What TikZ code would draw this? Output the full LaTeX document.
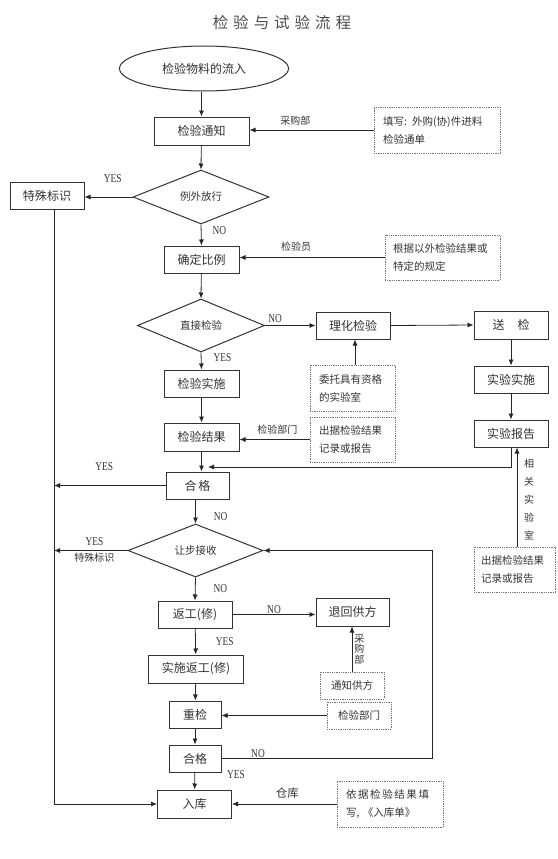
\documentclass[tikz,border=0pt]{standalone}
\usepackage{fontspec}
\newfontfamily\cjk{Noto Sans CJK SC}
\newfontfamily\yesno[FakeStretch=0.78]{Liberation Serif}
\usetikzlibrary{shapes.geometric,arrows.meta}
\begin{document}
\begin{tikzpicture}[x=1pt,y=-1pt,
  every node/.style={text=black!80},
  box/.style={draw=black!80, line width=1pt, minimum height=27pt, inner sep=0pt, font=\cjk\fontsize{12}{14}\selectfont},
  choice/.style={draw=black!80, line width=1pt, diamond, inner sep=0pt, font=\cjk\fontsize{10.5}{12}\selectfont},
  note/.style={draw=black!55, densely dotted, line width=0.8pt, inner sep=0pt, align=left, font=\cjk\fontsize{10.5}{18}\selectfont},
  tag/.style={inner sep=0pt, font=\cjk\fontsize{10}{12}\selectfont},
  yn/.style={inner sep=0pt, font=\yesno\fontsize{12}{12}\selectfont},
  flow/.style={draw=black!85, line width=0.8pt, -{Latex[length=6pt,width=5pt]}}]
\useasboundingbox (0,0) rectangle (557,859);
\node[font=\cjk\fontsize{15.5}{16}\selectfont, text=black!70] (title) at (282,23) {检\hspace{5pt}验\hspace{5pt}与\hspace{5pt}试\hspace{5pt}验\hspace{5pt}流\hspace{5pt}程};
\node[box, ellipse, minimum width=169pt, minimum height=45pt] (start) at (204,68.5) {检验物料的流入};
\node[box, minimum width=95pt, minimum height=28pt] (notice) at (201.5,131) {检验通知};
\node[choice, minimum width=136pt, minimum height=54pt] (release) at (201,197) {例外放行};
\node[box, minimum width=74pt] (special) at (47,195.5) {特殊标识};
\node[box, minimum width=75pt] (ratio) at (201.5,259.5) {确定比例};
\node[choice, minimum width=127pt, minimum height=53pt] (direct) at (201,325.5) {直接检验};
\node[box, minimum width=74pt] (physchem) at (353,325.5) {理化检验};
\node[box, minimum width=74pt, minimum height=28pt] (send) at (511,325) {送\hspace{13pt}检};
\node[box, minimum width=74pt] (testexec) at (511,379.5) {实验实施};
\node[box, minimum width=74pt] (testrep) at (511,433.5) {实验报告};
\node[box, minimum width=75pt] (exec) at (201.5,383.5) {检验实施};
\node[box, minimum width=75pt, minimum height=28pt] (result) at (201.5,437) {检验结果};
\node[box, minimum width=63pt] (pass) at (197.5,485.5) {合\,格};
\node[choice, minimum width=135pt, minimum height=53pt] (concession) at (195.5,550.5) {让步接收};
\node[box, minimum width=74pt] (rework) at (195,614.5) {返工(修)};
\node[box, minimum width=73pt, minimum height=28pt] (return) at (352.5,612) {退回供方};
\node[box, minimum width=95pt, minimum height=28pt] (dorework) at (196,669) {实施返工(修)};
\node[box, minimum width=52pt] (recheck) at (195,714.5) {重检};
\node[box, minimum width=52pt] (pass2) at (195,758.5) {合格};
\node[box, minimum width=74pt, minimum height=28pt] (stock) at (194.5,804) {入库};
\node[note, minimum width=126pt, minimum height=46pt, text width=108pt] (nfill) at (437,130) {填写: 外购(协)件进料\\检验通单};
\node[note, minimum width=115pt, minimum height=45pt, text width=99pt] (nrule) at (442.5,257.5) {根据以外检验结果或\\特定的规定};
\node[note, minimum width=85pt, minimum height=46pt, text width=67pt] (nlab) at (352.5,388) {委托具有资格\\的实验室};
\node[note, minimum width=85pt, minimum height=45pt, text width=67pt] (nrep) at (352.5,439.5) {出据检验结果\\记录或报告};
\node[note, minimum width=81pt, minimum height=45pt, text width=67pt] (nrepb) at (514.5,569.5) {出据检验结果\\记录或报告};
\node[note, minimum width=64pt, minimum height=27pt] (ninform) at (352,685.5) {通知供方};
\node[note, minimum width=64pt, minimum height=27pt] (ndept) at (359,715.5) {检验部门};
\node[note, minimum width=106pt, minimum height=46pt, text width=88pt] (nstore) at (390,804) {依\hspace{1.6pt}据\hspace{1.6pt}检\hspace{1.6pt}验\hspace{1.6pt}结\hspace{1.6pt}果\hspace{1.6pt}填\\写, 《入库单》};
\coordinate (railtop) at ([xshift=7pt]special.south);
\coordinate (join) at (208,467);
\coordinate (loopcorner) at (432,758.5);
\draw[flow] (start.south -| notice) -- (notice.north);
\draw[flow] (nfill.west) -- (nfill.west -| notice.east) node[tag, pos=0.63, above=4pt] (buy) {采购部};
\draw[flow] (notice) -- (release.north);
\draw[flow] (release.west) -- (release.west -| special.east) node[yn, pos=0.41, above=14pt] (yes1) {YES};
\draw[flow] (release.south) -- (ratio.north) node[yn, pos=0.3, right=11pt] (no1) {NO};
\draw[flow] (nrule.west) -- (nrule.west -| ratio.east) node[tag, pos=0.61, above=6pt] (inspector) {检验员};
\draw[flow] (ratio) -- (direct.north);
\draw[flow] (direct.east) -- (physchem.west) node[yn, pos=0.2, above=2pt] (no2) {NO};
\draw[flow] (physchem.east) -- (send.west);
\draw[flow] (send) -- (testexec);
\draw[flow] (testexec) -- (testrep);
\draw[flow] (nlab.north -| 355,0) -- (physchem.south -| 355,0);
\draw[flow] (direct.south) -- (exec.north) node[yn, pos=0.3, right=12pt] (yes2) {YES};
\draw[flow] (exec) -- (result);
\draw[flow] (nrep.west) -- (nrep.west -| result.east) node[tag, pos=0.46, above=5pt] (dept) {检验部门};
\draw[flow] (testrep.south) |- (join);
\draw[flow] ([xshift=6pt]testrep.south |- nrepb.north) -- ([xshift=6pt]testrep.south);
\node[tag, align=center, font=\cjk\fontsize{10}{18}\selectfont] (labname) at (529,500) {相\\关\\实\\验\\室};
\draw[flow] (result.south) -- (result.south |- pass.north);
\draw[flow] (railtop) |- (stock.west);
\draw[flow] (pass.west) -- (pass.west -| railtop) node[yn, pos=0.55, above=14pt] (yes3) {YES};
\draw[flow] (pass.south -| concession) -- (concession.north) node[yn, pos=0.7, right=18pt] (no3) {NO};
\draw[flow] (concession.west) -- (concession.west -| railtop) node[yn, pos=0.45, above=4pt] (yes4) {YES} node[tag, pos=0.45, below=2pt] (mark) {特殊标识};
\draw[flow] (concession.south) -- (rework.north) node[yn, midway, right=18pt] (no4) {NO};
\draw[flow] (rework.east) -- (rework.east -| return.west) node[yn, midway, above=0pt] (no5) {NO};
\draw[flow] (ninform.north) -- (ninform.north |- return.south) node[tag, align=center, font=\cjk\fontsize{10}{10.5}\selectfont, midway, right=2pt] (buyv) {采\\购\\部};
\draw[flow] (rework) -- (dorework) node[yn, midway, right=20pt] (yes5) {YES};
\draw[flow] (dorework) -- (recheck);
\draw[flow] (ndept.west) -- (ndept.west -| recheck.east);
\draw[flow] (recheck) -- (pass2);
\draw[flow] (pass2.east) -- (loopcorner) |- (concession.east);
\node[yn] (no6) at (258,754) {NO};
\draw[flow] (pass2) -- (stock) node[yn, pos=0.1, right=32pt] (yes6) {YES};
\draw[flow] (nstore.west) -- (nstore.west -| stock.east) node[tag, font=\cjk\fontsize{11.5}{12}\selectfont, pos=0.47, above=5pt] (store) {仓库};
\end{tikzpicture}
\end{document}
